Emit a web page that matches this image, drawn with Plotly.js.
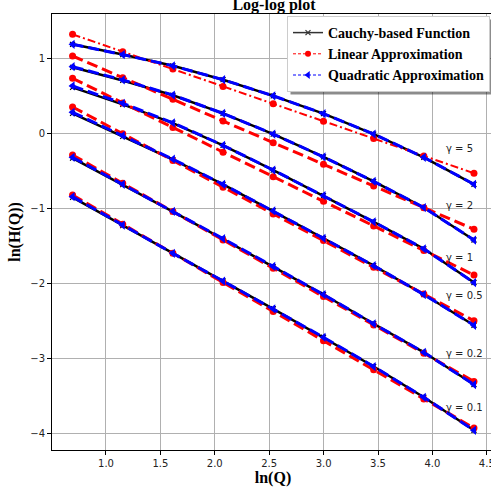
<!DOCTYPE html>
<html>
<head>
<meta charset="utf-8">
<script src="https://cdn.plot.ly/plotly-3.0.1.min.js"></script>
<style>
html,body{margin:0;padding:0;overflow:hidden;background:#fff;}
#chart{width:496px;height:488px;}
</style>
</head>
<body>
<div id="chart"></div>
<script>
// ln(Q) positions of the sampled points
const lnQ = [0.693, 1.154, 1.615, 2.076, 2.537, 2.999, 3.460, 3.921, 4.382];
const gammaLabels = ['γ = 5', 'γ = 2', 'γ = 1', 'γ = 0.5', 'γ = 0.2', 'γ = 0.1'];
const gammaLabelY = [-0.20, -0.96, -1.65, -2.16, -2.94, -3.65];
const gammaLabelX = 4.11;

// Cauchy-based function, ln(H(Q))
const cauchy_g5   = [1.187, 1.050, 0.900, 0.715, 0.500, 0.262, -0.010, -0.320, -0.680];
const cauchy_g2   = [0.880, 0.705, 0.507, 0.265, -0.010, -0.315, -0.640, -0.990, -1.423];
const cauchy_g1   = [0.612, 0.385, 0.135, -0.160, -0.490, -0.830, -1.180, -1.540, -1.990];
const cauchy_g05  = [0.265, -0.040, -0.350, -0.680, -1.035, -1.400, -1.765, -2.150, -2.560];
const cauchy_g02  = [-0.330, -0.685, -1.045, -1.410, -1.780, -2.150, -2.540, -2.920, -3.350];
const cauchy_g01  = [-0.855, -1.230, -1.600, -1.970, -2.340, -2.720, -3.110, -3.520, -3.960];

// Linear approximation
const linear_g5   = [1.320, 1.088, 0.857, 0.625, 0.394, 0.162, -0.070, -0.301, -0.533];
const linear_g2   = [1.031, 0.742, 0.453, 0.164, -0.125, -0.414, -0.702, -0.991, -1.280];
const linear_g1   = [0.733, 0.405, 0.077, -0.251, -0.579, -0.907, -1.235, -1.562, -1.890];
const linear_g05  = [0.351, -0.005, -0.362, -0.718, -1.075, -1.431, -1.787, -2.144, -2.500];
const linear_g02  = [-0.289, -0.667, -1.044, -1.422, -1.800, -2.177, -2.555, -2.932, -3.310];
const linear_g01  = [-0.823, -1.211, -1.600, -1.988, -2.377, -2.765, -3.153, -3.542, -3.930];

// Quadratic approximation
const quad_g5     = [1.187, 1.050, 0.900, 0.715, 0.500, 0.262, -0.010, -0.320, -0.680];
const quad_g2     = [0.888, 0.712, 0.510, 0.265, -0.010, -0.315, -0.640, -0.990, -1.423];
const quad_g1     = [0.631, 0.400, 0.140, -0.160, -0.490, -0.830, -1.180, -1.540, -1.990];
const quad_g05    = [0.280, -0.030, -0.345, -0.680, -1.035, -1.400, -1.765, -2.150, -2.560];
const quad_g02    = [-0.320, -0.680, -1.040, -1.405, -1.775, -2.150, -2.540, -2.920, -3.350];
const quad_g01    = [-0.845, -1.225, -1.600, -1.970, -2.340, -2.720, -3.110, -3.520, -3.960];

const cauchySets = [cauchy_g5, cauchy_g2, cauchy_g1, cauchy_g05, cauchy_g02, cauchy_g01];
const linearSets = [linear_g5, linear_g2, linear_g1, linear_g05, linear_g02, linear_g01];
const quadSets   = [quad_g5, quad_g2, quad_g1, quad_g05, quad_g02, quad_g01];

const traces = [];
for (let i = 0; i < cauchySets.length; i++) {
  traces.push({x: lnQ, y: cauchySets[i], mode: 'lines+markers', showlegend: false,
    line: {color: '#000', width: 2.5},
    marker: {symbol: 'x-thin', size: 5, color: '#000', line: {color: '#000', width: 1.2}}});
  traces.push({x: lnQ, y: linearSets[i], mode: 'lines+markers', showlegend: false,
    line: {color: '#ff0000', width: i === 0 ? 2 : 3, dash: i === 0 ? '8px,3px,2px,3px' : '11px,5px'},
    marker: {symbol: 'circle', size: 7, color: '#ff0000'}});
  traces.push({x: lnQ, y: quadSets[i], mode: 'lines+markers', showlegend: false,
    line: {color: '#0000ff', width: 3, dash: '11px,5px'},
    marker: {symbol: 'triangle-left', size: 8, color: '#0000ff'}});
}
// legend entries
traces.push({x: [null], y: [null], mode: 'lines+markers', name: 'Cauchy-based Function',
  line: {color: '#333', width: 1.5}, marker: {symbol: 'x-thin', size: 5, color: '#333', line: {color: '#333', width: 1.2}}});
traces.push({x: [null], y: [null], mode: 'lines+markers', name: 'Linear Approximation',
  line: {color: '#ff0000', width: 1, dash: '3px,2px'}, marker: {symbol: 'circle', size: 6, color: '#ff0000'}});
traces.push({x: [null], y: [null], mode: 'lines+markers', name: 'Quadratic Approximation',
  line: {color: '#0000ff', width: 1, dash: '3px,2px'}, marker: {symbol: 'triangle-left', size: 7, color: '#0000ff'}});

const annotations = gammaLabels.map((t, i) => ({
  x: gammaLabelX, y: gammaLabelY[i], xref: 'x', yref: 'y', text: t, showarrow: false,
  xanchor: 'left', yanchor: 'middle', font: {family: 'DejaVu Sans', size: 10, color: '#222'}
}));

function px2paperX(p) { return (p - 52) / 442; }
function px2paperY(p) { return (450 - p) / 436; }

const layout = {
  width: 496, height: 488,
  margin: {l: 52, r: 2, t: 14, b: 38},
  paper_bgcolor: '#fff', plot_bgcolor: '#fff',
  title: {text: 'Log-log plot', x: px2paperX(274), xref: 'paper', xanchor: 'center',
    y: 0.991, yref: 'container', yanchor: 'middle',
    font: {family: 'Liberation Serif', size: 16, weight: 'bold', color: '#000'}},
  xaxis: {range: [0.504, 4.566], tickvals: [1.0, 1.5, 2.0, 2.5, 3.0, 3.5, 4.0, 4.5],
    ticktext: ['1.0', '1.5', '2.0', '2.5', '3.0', '3.5', '4.0', '4.5'],
    showgrid: true, gridcolor: '#b0b0b0', gridwidth: 1, zeroline: false,
    showline: true, linecolor: '#000', linewidth: 1, mirror: true,
    ticks: 'outside', ticklen: 4, tickcolor: '#000',
    tickfont: {family: 'DejaVu Sans', size: 10, color: '#222'},
    title: {text: 'ln(Q)', standoff: 0, font: {family: 'Liberation Serif', size: 16, weight: 'bold', color: '#000'}}},
  yaxis: {range: [-4.223, 1.591], tickvals: [-4, -3, -2, -1, 0, 1],
    showgrid: true, gridcolor: '#b0b0b0', gridwidth: 1, zeroline: false,
    showline: true, linecolor: '#000', linewidth: 1, mirror: false,
    ticks: 'outside', ticklen: 4, tickcolor: '#000',
    tickfont: {family: 'DejaVu Sans', size: 10, color: '#222'},
    title: {text: 'ln(H(Q))', standoff: 5, font: {family: 'Liberation Serif', size: 16, weight: 'bold', color: '#000'}}},
  legend: {x: px2paperX(490), y: px2paperY(16), xanchor: 'right', yanchor: 'top',
    bgcolor: '#fff', bordercolor: '#cccccc', borderwidth: 1,
    font: {family: 'Liberation Serif', size: 14, weight: 'bold', color: '#000'},
    tracegroupgap: 0},
  annotations: annotations,
  showlegend: true
};

Plotly.newPlot('chart', traces, layout, {displayModeBar: false, staticPlot: true}).then(gd => {
  // shadow behind the legend box, like the reference's legend shadow
  const bg = gd.querySelector('.legend rect.bg');
  if (!bg) return;
  const r = bg.getBoundingClientRect();
  const c = gd.getBoundingClientRect();
  const left = r.left - c.left, top = r.top - c.top, right = r.right - c.left, bottom = r.bottom - c.top;
  return Plotly.relayout(gd, {shapes: [{type: 'rect', xref: 'paper', yref: 'paper', layer: 'above',
    x0: px2paperX(left + 3), x1: px2paperX(right + 3), y0: px2paperY(bottom + 3), y1: px2paperY(top + 3),
    fillcolor: 'rgba(0,0,0,0.45)', line: {width: 0}}]});
});
</script>
</body>
</html>
